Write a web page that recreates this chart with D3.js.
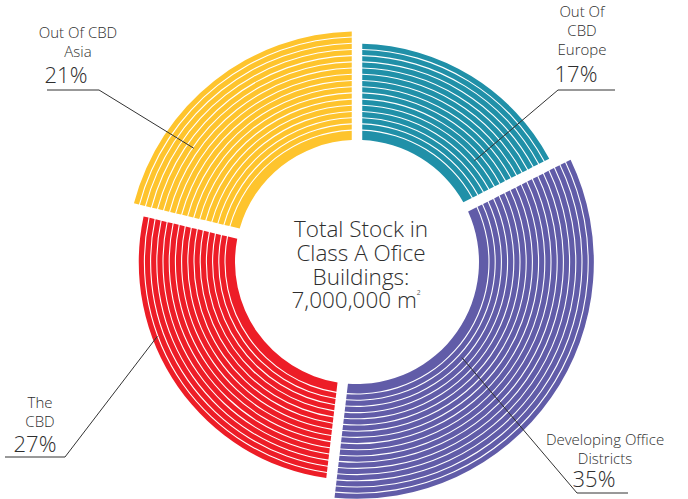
<!DOCTYPE html>
<html lang="en">
<head>
	<meta charset="UTF-8">
	<script src="https://cdn.jsdelivr.net/npm/d3@7"></script>
	<title>Class A Office Stock</title>
	<style>
		body { margin: 0; background: #fff; }
		svg { display: block; }
		text { font-family: "Open Sans", Roboto, sans-serif; fill: #2e2e2e; }
	</style>
</head>
<body>
	<div id="chart"></div>
	<script>
		/*------------------------ data ------------------------*/
		const segments = ["Out Of CBD Europe", "Developing Office Districts", "The CBD", "Out Of CBD Asia"];
		const nameLines = [["Out Of", "CBD", "Europe"], ["Developing Office", "Districts"], ["The", "CBD"], ["Out Of CBD", "Asia"]];
		const shares = [17, 35, 27, 21];
		const ringCounts = [14, 17, 14, 16];
		const colors = ["#2090a8", "#615ca8", "#ed1d27", "#fec42d"];
		const centerLines = ["Total Stock in", "Class A Ofice", "Buildings:", "7,000,000 m\u00B2"];

		/*------------------------ layout ----------------------*/
		const width = 688, height = 499;
		const cx = 357, cy = 262;
		const rIn = 122, band = 10, ringW = 6.2;
		const lineGap = 19;

		// where each label sits, and where its leader touches the ring
		const labelLayout = [
			{ nameX: 582, nameY: 17, pctX: 576, pctY: 82, elbow: [558, 90], tail: 615, along: 0.78, r: 155 },
			{ nameX: 605, nameY: 445, pctX: 594, pctY: 487, elbow: [577, 493], tail: 628, along: 0.56, r: 142 },
			{ nameX: 40, nameY: 408, pctX: 35, pctY: 452, elbow: [65, 457], tail: 5, along: 0.65, r: 213 },
			{ nameX: 78, nameY: 38, pctX: 66, pctY: 83, elbow: [99, 90], tail: 47, along: 0.28, r: 199 }
		];

		const svg = d3.select("#chart").append("svg")
			.attr("width", width)
			.attr("height", height);

		const g = svg.append("g").attr("transform", `translate(${cx},${cy})`);

		const pie = d3.pie().sort(null).value(d => d).padAngle(0.105);
		const slices = pie(shares);

		const maxRings = d3.max(ringCounts);
		const ringScale = d3.scaleLinear()
			.domain([0, maxRings])
			.range([rIn + band, rIn + band + maxRings * ringW]);

		const arc = d3.arc().padRadius(100);

		slices.forEach((s, i) => {
			const seg = g.append("g").attr("class", "segment");
			// inner solid band, then the thin rings
			const rings = [[rIn, ringScale(0)]];
			for (let k = 0; k < ringCounts[i]; k++) {
				rings.push([ringScale(k), ringScale(k + 1)]);
			}
			seg.selectAll("path")
				.data(rings)
				.enter()
				.append("path")
				.attr("d", r => arc({
					startAngle: s.startAngle,
					endAngle: s.endAngle,
					padAngle: s.padAngle,
					innerRadius: r[0] + (r[0] === rIn ? 0 : 0.55),
					outerRadius: r[1] - 0.55
				}))
				.attr("fill", colors[i]);
		});

		/*------------------------ center text -----------------*/
		const center = svg.append("text")
			.attr("x", 361)
			.attr("y", 237)
			.attr("text-anchor", "middle")
			.attr("font-size", 22.5)
			.attr("font-weight", 300);

		centerLines.forEach((line, i) => {
			const sup = line.endsWith("\u00B2");
			const t = center.append("tspan")
				.attr("x", sup ? 356 : 361)
				.attr("dy", i === 0 ? 0 : 23.8)
				.text(sup ? line.slice(0, -1) : line);
			if (sup) {
				// small raised square sign, as in the print original
				center.append("tspan")
					.attr("font-size", 11)
					.attr("dy", -9)
					.text("\u00B2");
			}
		});

		/*------------------------ labels ----------------------*/
		slices.forEach((s, i) => {
			const L = labelLayout[i];
			const a = s.startAngle + L.along * (s.endAngle - s.startAngle);
			const p = d3.pointRadial(a, L.r);
			const anchor = [cx + p[0], cy + p[1]];

			svg.append("path")
				.attr("d", d3.line()([anchor, L.elbow, [L.tail, L.elbow[1]]]))
				.attr("fill", "none")
				.attr("stroke", "#333")
				.attr("stroke-width", 1);

			svg.append("g")
				.selectAll("text")
				.data(nameLines[i])
				.enter()
				.append("text")
				.attr("x", L.nameX)
				.attr("y", (d, j) => L.nameY + j * lineGap)
				.attr("text-anchor", "middle")
				.attr("font-size", 15)
				.attr("font-weight", 300)
				.text(d => d);

			svg.append("text")
				.attr("x", L.pctX)
				.attr("y", L.pctY)
				.attr("text-anchor", "middle")
				.attr("font-size", 22)
				.attr("font-weight", 300)
				.text(shares[i] + "%");
		});
	</script>
</body>
</html>
